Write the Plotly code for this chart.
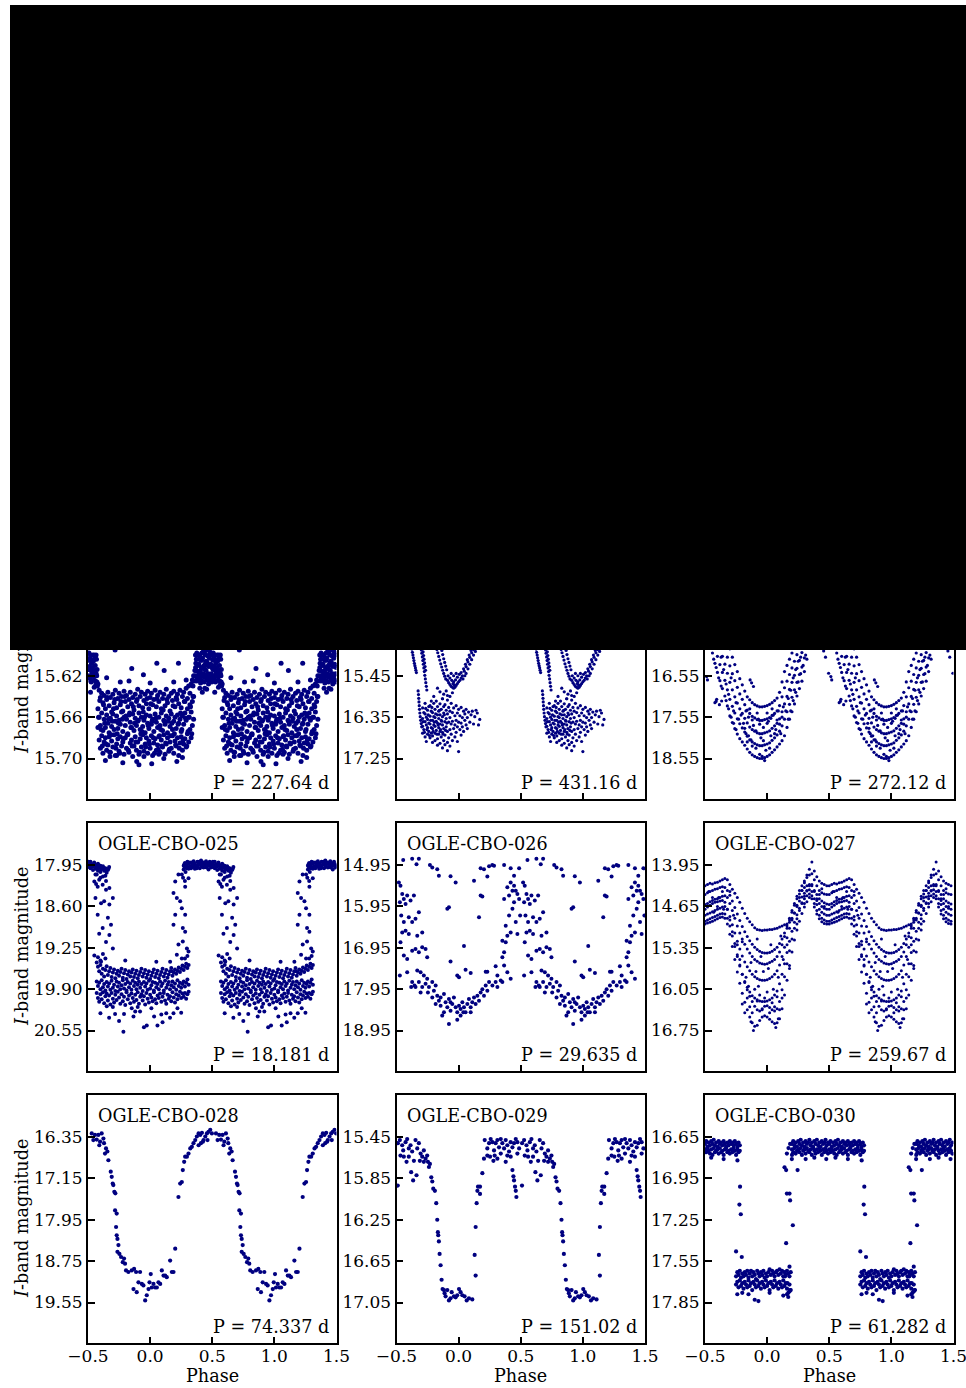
import plotly.graph_objects as go

W, H = 966, 1388
COL_LEFT = [88, 396.5, 705]
PANEL_W = 248.5
ROW_TOP = [551, 823, 1095]
PANEL_H = 248
NAVY = "#000080"
FONT = "DejaVu Serif"

# ---------------- panel meta ----------------
NAMES = ["OGLE-CBO-022", "OGLE-CBO-023", "OGLE-CBO-024",
         "OGLE-CBO-025", "OGLE-CBO-026", "OGLE-CBO-027",
         "OGLE-CBO-028", "OGLE-CBO-029", "OGLE-CBO-030"]
PERIODS = ["227.64", "431.16", "272.12", "18.181", "29.635", "259.67",
           "74.337", "151.02", "61.282"]
TICK0 = [15.54, 13.65, 14.55, 17.95, 14.95, 13.95, 16.35, 15.45, 16.65]
TICKSTEP = [0.04, 0.9, 1.0, 0.65, 1.0, 0.7, 0.8, 0.4, 0.3]
XTICKS = [-0.5, 0.0, 0.5, 1.0, 1.5]

# ---------------- OGLE-CBO-022 ----------------
G022 = [-0.42, -0.41, -0.40, -0.39, -0.38, -0.37, -0.36, -0.35, -0.34, -0.33,
        -0.32, -0.31, -0.30, -0.29, -0.28, -0.27, -0.26, -0.25, -0.24, -0.23,
        -0.22, -0.21, -0.20, -0.19, -0.18, -0.17, -0.16, -0.15, -0.14, -0.13,
        -0.12, -0.11, -0.10, -0.09, -0.08, -0.07, -0.06, -0.05, -0.04, -0.03,
        -0.02, -0.01, 0.00, 0.01, 0.02, 0.03, 0.04, 0.05, 0.06, 0.07,
        0.08, 0.09, 0.10, 0.11, 0.12, 0.13, 0.14, 0.15, 0.16, 0.17,
        0.18, 0.19, 0.20, 0.21, 0.22, 0.23, 0.24, 0.25, 0.26, 0.27,
        0.28, 0.29, 0.30, 0.31, 0.32, 0.33, 0.34, 0.35]
A022 = [15.628, 15.634, 15.641, 15.637, 15.646, 15.639, 15.652, 15.643, 15.636, 15.649,
        15.641, 15.655, 15.638, 15.646, 15.634, 15.651, 15.642, 15.637, 15.648, 15.640,
        15.654, 15.635, 15.645, 15.639, 15.650, 15.643, 15.636, 15.647, 15.641, 15.653,
        15.638, 15.645, 15.633, 15.649, 15.640, 15.636, 15.651, 15.644, 15.638, 15.647,
        15.635, 15.652, 15.641, 15.637, 15.648, 15.643, 15.634, 15.650, 15.639, 15.645,
        15.636, 15.652, 15.642, 15.638, 15.649, 15.633, 15.646, 15.640, 15.654, 15.637,
        15.644, 15.635, 15.650, 15.641, 15.638, 15.647, 15.634, 15.651, 15.640, 15.636,
        15.645, 15.632, 15.642, 15.630, 15.637, 15.628, 15.624, 15.620]
B022 = [15.652, 15.660, 15.668, 15.656, 15.673, 15.662, 15.670, 15.658, 15.666, 15.675,
        15.661, 15.669, 15.657, 15.672, 15.664, 15.659, 15.671, 15.663, 15.667, 15.655,
        15.674, 15.660, 15.668, 15.662, 15.676, 15.658, 15.665, 15.670, 15.657, 15.673,
        15.661, 15.668, 15.664, 15.656, 15.672, 15.660, 15.669, 15.663, 15.675, 15.658,
        15.666, 15.671, 15.659, 15.667, 15.662, 15.674, 15.657, 15.665, 15.670, 15.660,
        15.668, 15.656, 15.673, 15.663, 15.667, 15.659, 15.675, 15.661, 15.669, 15.657,
        15.672, 15.664, 15.660, 15.671, 15.658, 15.666, 15.662, 15.674, 15.659, 15.667,
        15.656, 15.663, 15.652, 15.660, 15.648, 15.655, 15.645, 15.640]
C022 = [15.670, 15.682, 15.690, 15.678, 15.695, 15.684, 15.680, 15.692, 15.687, 15.679,
        15.694, 15.683, 15.689, 15.677, 15.697, 15.686, 15.681, 15.693, 15.679, 15.688,
        15.684, 15.696, 15.680, 15.690, 15.677, 15.694, 15.685, 15.682, 15.698, 15.688,
        15.679, 15.692, 15.684, 15.696, 15.681, 15.689, 15.677, 15.693, 15.686, 15.680,
        15.695, 15.683, 15.690, 15.678, 15.697, 15.685, 15.681, 15.692, 15.687, 15.679,
        15.694, 15.682, 15.689, 15.677, 15.696, 15.686, 15.680, 15.693, 15.684, 15.690,
        15.678, 15.695, 15.683, 15.688, 15.680, 15.697, 15.685, 15.679, 15.692, 15.686,
        15.681, 15.689, 15.676, 15.684, 15.672, 15.680, 15.668, 15.662]
D022 = [(-0.415, 15.660), (-0.395, 15.672), (-0.375, 15.648), (-0.355, 15.686), (-0.335, 15.662),
        (-0.315, 15.677), (-0.295, 15.652), (-0.275, 15.690), (-0.255, 15.666), (-0.235, 15.645),
        (-0.215, 15.681), (-0.195, 15.659), (-0.175, 15.692), (-0.155, 15.670), (-0.135, 15.650),
        (-0.115, 15.684), (-0.095, 15.663), (-0.075, 15.676), (-0.055, 15.655), (-0.035, 15.689),
        (-0.015, 15.668), (0.005, 15.647), (0.025, 15.680), (0.045, 15.661), (0.065, 15.691),
        (0.085, 15.672), (0.105, 15.653), (0.125, 15.685), (0.145, 15.664), (0.165, 15.678),
        (0.185, 15.649), (0.205, 15.687), (0.225, 15.667), (0.245, 15.656), (0.265, 15.682),
        (0.285, 15.661), (0.305, 15.674), (0.325, 15.650), (0.345, 15.640),
        (-0.405, 15.644), (-0.385, 15.688), (-0.365, 15.666), (-0.345, 15.641), (-0.325, 15.694),
        (-0.305, 15.664), (-0.285, 15.643), (-0.265, 15.676), (-0.245, 15.695), (-0.225, 15.662),
        (-0.205, 15.640), (-0.185, 15.677), (-0.165, 15.656), (-0.145, 15.688), (-0.125, 15.666),
        (-0.105, 15.643), (-0.085, 15.694), (-0.065, 15.674), (-0.045, 15.660), (-0.025, 15.642),
        (-0.005, 15.686), (0.015, 15.664), (0.035, 15.695), (0.055, 15.642), (0.075, 15.678),
        (0.095, 15.688), (0.115, 15.664), (0.135, 15.643), (0.155, 15.691), (0.175, 15.666),
        (0.195, 15.676), (0.215, 15.643), (0.235, 15.690), (0.255, 15.672), (0.275, 15.645),
        (0.295, 15.688), (0.315, 15.660), (0.335, 15.676)]
BRIGHT022 = [(0.365, 15.600), (0.370, 15.615), (0.375, 15.625), (0.380, 15.590), (0.385, 15.610),
             (0.390, 15.620), (0.395, 15.575), (0.400, 15.600), (0.405, 15.615), (0.410, 15.585),
             (0.415, 15.605), (0.420, 15.620), (0.425, 15.570), (0.430, 15.595), (0.435, 15.610),
             (0.440, 15.580), (0.445, 15.600), (0.450, 15.615), (0.455, 15.575), (0.460, 15.595),
             (0.465, 15.610), (0.470, 15.585), (0.475, 15.600), (0.480, 15.620), (0.485, 15.580),
             (0.490, 15.600), (0.495, 15.610), (-0.500, 15.590), (-0.495, 15.605), (-0.490, 15.620),
             (-0.485, 15.580), (-0.480, 15.600), (-0.475, 15.615), (-0.470, 15.590), (-0.465, 15.605),
             (-0.460, 15.620), (-0.455, 15.580), (-0.450, 15.600), (-0.445, 15.615), (-0.440, 15.625),
             (-0.435, 15.600), (-0.430, 15.620), (-0.425, 15.630), (0.400, 15.520), (0.450, 15.500),
             (0.480, 15.530), (-0.480, 15.510), (-0.450, 15.550), (0.420, 15.550), (-0.470, 15.560),
             (0.440, 15.632), (0.470, 15.628), (-0.480, 15.636), (-0.450, 15.631), (0.400, 15.632),
             (0.420, 15.636), (0.455, 15.633), (0.345, 15.630), (0.355, 15.625), (0.360, 15.615),
             (0.368, 15.608), (0.378, 15.622), (0.388, 15.600), (0.398, 15.618), (0.408, 15.605),
             (0.418, 15.625), (0.428, 15.612), (0.438, 15.598), (0.448, 15.622), (0.458, 15.607),
             (0.468, 15.618), (0.478, 15.603), (0.488, 15.624), (0.498, 15.612), (-0.492, 15.598),
             (-0.482, 15.622), (-0.472, 15.608), (-0.462, 15.600), (-0.452, 15.624), (-0.442, 15.610),
             (-0.432, 15.604), (-0.428, 15.626),
             (0.362, 15.620), (0.372, 15.604), (0.382, 15.616), (0.392, 15.609), (0.402, 15.623),
             (0.412, 15.612), (0.422, 15.603), (0.432, 15.621), (0.442, 15.614), (0.452, 15.606),
             (0.462, 15.624), (0.472, 15.611), (0.482, 15.597), (0.492, 15.618), (-0.497, 15.622),
             (-0.487, 15.611), (-0.477, 15.625), (-0.467, 15.617), (-0.457, 15.606), (-0.447, 15.620),
             (-0.437, 15.629), (-0.427, 15.614),
             (0.366, 15.612), (0.376, 15.598), (0.386, 15.624), (0.396, 15.604), (0.406, 15.627),
             (0.416, 15.598), (0.426, 15.618), (0.436, 15.626), (0.446, 15.608), (0.456, 15.619),
             (0.466, 15.601), (0.476, 15.623), (0.486, 15.609), (0.496, 15.626), (-0.494, 15.614),
             (-0.484, 15.603), (-0.474, 15.626), (-0.464, 15.612), (-0.454, 15.616), (-0.444, 15.602),
             (-0.434, 15.618)]
OUT022 = [(-0.282, 15.595), (-0.148, 15.613), (-0.054, 15.619), (0.054, 15.608), (0.228, 15.608),
          (0.113, 15.615), (-0.240, 15.626), (-0.170, 15.625), (0.190, 15.626), (0.290, 15.624),
          (-0.350, 15.622), (0.000, 15.627), (-0.360, 15.702), (-0.323, 15.698), (-0.220, 15.704),
          (-0.108, 15.703), (-0.050, 15.698), (0.013, 15.705), (0.110, 15.700), (0.215, 15.703),
          (0.260, 15.699), (-0.270, 15.697), (0.070, 15.696), (-0.090, 15.706)]

# ---------------- OGLE-CBO-023 ----------------
LINES023 = [(-0.380, 14.80), (-0.376, 14.87), (-0.372, 14.94), (-0.368, 15.00), (-0.364, 15.06),
            (-0.360, 15.12), (-0.356, 15.18), (-0.352, 15.23), (-0.348, 15.28), (-0.344, 15.33),
            (-0.340, 15.38),
            (-0.304, 14.82), (-0.300, 14.89), (-0.296, 14.96), (-0.292, 15.04), (-0.288, 15.12),
            (-0.284, 15.20), (-0.280, 15.28), (-0.276, 15.36), (-0.272, 15.44), (-0.268, 15.52),
            (-0.264, 15.60), (-0.260, 15.68), (-0.256, 15.76),
            (-0.290, 14.85), (-0.286, 14.93), (-0.282, 15.01), (-0.278, 15.09), (-0.274, 15.17),
            (-0.270, 15.25), (-0.266, 15.33),
            (-0.326, 15.78), (-0.323, 15.86), (-0.321, 15.94), (-0.319, 16.02), (-0.317, 16.10),
            (-0.315, 16.18), (-0.312, 16.26), (-0.309, 16.34), (-0.305, 16.42), (-0.301, 16.49),
            (-0.297, 16.56)]
U023 = [(-0.175, 14.88), (-0.168, 14.95), (-0.160, 15.03), (-0.152, 15.11), (-0.144, 15.19),
        (-0.136, 15.26), (-0.128, 15.33), (-0.120, 15.40), (-0.112, 15.46), (-0.104, 15.52),
        (-0.135, 14.90), (-0.128, 14.99), (-0.120, 15.08), (-0.112, 15.16), (-0.104, 15.24),
        (-0.096, 15.32), (-0.090, 15.55), (-0.080, 15.60), (-0.070, 15.64), (-0.060, 15.68),
        (-0.050, 15.70), (-0.040, 15.72), (-0.030, 15.70), (-0.020, 15.66), (-0.010, 15.62),
        (0.000, 15.58), (0.010, 15.55), (0.020, 15.50), (-0.085, 15.45), (-0.070, 15.50),
        (-0.055, 15.55), (-0.040, 15.58), (-0.025, 15.54), (-0.010, 15.48), (0.005, 15.42),
        (0.020, 15.38), (-0.060, 15.40), (-0.040, 15.45), (-0.020, 15.40), (-0.045, 15.62),
        (-0.035, 15.65), (0.030, 15.45), (0.045, 15.35), (0.060, 15.25), (0.075, 15.15),
        (0.090, 15.05), (0.105, 14.95), (0.120, 14.88), (0.040, 15.30), (0.055, 15.20),
        (0.070, 15.10), (0.085, 15.00), (0.100, 14.90), (0.060, 15.40), (0.075, 15.30),
        (0.090, 15.20), (0.105, 15.10), (0.120, 15.00), (0.135, 14.92), (0.035, 15.52),
        (0.050, 15.45)]
BLOB023 = [(-0.29, 16.15), (-0.29, 16.38), (-0.29, 16.55), (-0.29, 16.70), (-0.28, 16.25),
           (-0.28, 16.62), (-0.27, 16.05), (-0.27, 16.28), (-0.27, 16.45), (-0.27, 16.78),
           (-0.26, 16.35), (-0.26, 16.52), (-0.26, 16.88), (-0.25, 16.20), (-0.25, 16.40),
           (-0.25, 16.58), (-0.25, 16.72), (-0.24, 16.12), (-0.24, 16.48), (-0.24, 16.66),
           (-0.23, 16.10), (-0.23, 16.33), (-0.23, 16.50), (-0.23, 16.80), (-0.22, 16.22),
           (-0.22, 16.58), (-0.22, 16.70), (-0.21, 16.25), (-0.21, 16.42), (-0.21, 16.60),
           (-0.21, 16.76), (-0.21, 16.90), (-0.20, 16.05), (-0.20, 16.34), (-0.20, 16.52),
           (-0.19, 16.18), (-0.19, 16.36), (-0.19, 16.55), (-0.19, 16.70), (-0.19, 16.86),
           (-0.18, 16.00), (-0.18, 16.44), (-0.18, 16.64), (-0.17, 16.12), (-0.17, 16.30),
           (-0.17, 16.48), (-0.17, 16.82), (-0.17, 16.96), (-0.16, 16.22), (-0.16, 16.38),
           (-0.16, 16.58), (-0.16, 16.72), (-0.15, 16.06), (-0.15, 16.30), (-0.15, 16.50),
           (-0.15, 16.66), (-0.15, 16.92), (-0.14, 16.18), (-0.14, 16.42), (-0.14, 16.78),
           (-0.13, 15.95), (-0.13, 16.34), (-0.13, 16.52), (-0.13, 16.68), (-0.13, 17.02),
           (-0.12, 16.12), (-0.12, 16.26), (-0.12, 16.60), (-0.12, 16.86), (-0.11, 16.08),
           (-0.11, 16.45), (-0.11, 16.74), (-0.11, 16.95), (-0.10, 16.20), (-0.10, 16.38),
           (-0.10, 16.56), (-0.09, 15.98), (-0.09, 16.28), (-0.09, 16.66), (-0.09, 16.90),
           (-0.09, 17.08), (-0.08, 16.14), (-0.08, 16.46), (-0.08, 16.80), (-0.07, 16.22),
           (-0.07, 16.36), (-0.07, 16.62), (-0.07, 16.98), (-0.06, 16.05), (-0.06, 16.50),
           (-0.06, 16.72), (-0.05, 16.25), (-0.05, 16.44), (-0.05, 16.86), (-0.04, 16.15),
           (-0.04, 16.60), (-0.03, 16.32), (-0.03, 16.52), (-0.03, 16.78), (-0.02, 16.10),
           (-0.02, 16.42), (-0.02, 16.68), (-0.01, 16.26), (-0.01, 16.56), (-0.01, 16.88),
           (0.00, 16.18), (0.00, 16.46), (0.00, 17.10), (0.01, 16.32), (0.01, 16.62),
           (0.02, 16.14), (0.02, 16.48), (0.02, 16.74), (0.03, 16.36), (0.03, 16.56),
           (0.04, 16.22), (0.04, 16.66), (0.05, 16.42), (0.05, 16.28), (0.06, 16.52),
           (0.06, 16.18), (0.07, 16.36), (0.07, 16.60), (0.08, 16.24), (0.09, 16.46),
           (0.10, 16.30), (0.11, 16.22), (0.12, 16.50), (0.13, 16.34), (0.15, 16.26),
           (0.17, 16.40), (0.16, 16.52), (0.14, 16.20),
           (-0.285, 16.45), (-0.275, 16.68), (-0.265, 16.16), (-0.255, 16.62), (-0.245, 16.30),
           (-0.235, 16.75), (-0.225, 16.42), (-0.215, 16.14), (-0.205, 16.66), (-0.195, 16.46),
           (-0.185, 16.28), (-0.175, 16.72), (-0.165, 16.52), (-0.155, 16.20), (-0.145, 16.62),
           (-0.135, 16.44), (-0.125, 16.72), (-0.115, 16.30), (-0.105, 16.64), (-0.095, 16.48),
           (-0.17, 15.72), (-0.15, 15.80), (-0.12, 15.85), (-0.10, 15.78), (-0.07, 15.90),
           (-0.05, 15.82), (-0.13, 15.95), (-0.09, 15.88), (-0.20, 15.90), (-0.22, 16.00)]

# ---------------- OGLE-CBO-024 ----------------
G024 = [-0.46, -0.44, -0.42, -0.40, -0.38, -0.36, -0.34, -0.32, -0.30, -0.28,
        -0.26, -0.24, -0.22, -0.20, -0.18, -0.16, -0.14, -0.12, -0.10, -0.08,
        -0.06, -0.04, -0.02, 0.00, 0.02, 0.04, 0.06, 0.08, 0.10, 0.12,
        0.14, 0.16, 0.18, 0.20, 0.22, 0.24, 0.26, 0.28, 0.30, 0.32,
        0.34]
U1_024 = [15.75, 16.00, 16.25, 16.47, 16.67, 16.86, 17.04, 17.28, 17.52, 17.68,
          17.83, 17.96, 18.07, 18.15, 18.23, 18.32, 18.40, 18.46, 18.50, 18.53,
          18.55, 18.55, 18.53, 18.50, 18.46, 18.40, 18.34, 18.27, 18.20, 18.12,
          18.00, 17.80, 17.60, 17.42, 17.23, 17.04, 16.86, 16.68, 16.45, 16.15,
          15.85]
U2_024 = [15.39, 15.63, 15.87, 16.08, 16.28, 16.47, 16.66, 16.89, 17.12, 17.29,
          17.45, 17.59, 17.71, 17.81, 17.91, 18.01, 18.10, 18.15, 18.19, 18.22,
          18.24, 18.24, 18.22, 18.20, 18.17, 18.11, 18.05, 17.98, 17.89, 17.76,
          17.60, 17.42, 17.24, 17.07, 16.89, 16.71, 16.52, 16.34, 16.12, 15.84,
          15.57]
U3_024 = [15.03, 15.25, 15.48, 15.69, 15.89, 16.08, 16.27, 16.49, 16.71, 16.89,
          17.06, 17.21, 17.35, 17.46, 17.58, 17.69, 17.79, 17.85, 17.89, 17.93,
          17.95, 17.95, 17.93, 17.91, 17.88, 17.82, 17.76, 17.70, 17.59, 17.42,
          17.23, 17.05, 16.88, 16.71, 16.54, 16.37, 16.18, 15.99, 15.78, 15.53,
          15.28]
U4_024 = [14.67, 14.88, 15.09, 15.30, 15.50, 15.69, 15.89, 16.10, 16.31, 16.50,
          16.67, 16.83, 16.99, 17.12, 17.25, 17.38, 17.46, 17.53, 17.57, 17.61,
          17.63, 17.63, 17.61, 17.59, 17.56, 17.51, 17.46, 17.40, 17.27, 17.06,
          16.84, 16.68, 16.52, 16.36, 16.20, 16.04, 15.84, 15.65, 15.44, 15.22,
          14.99]
U5_024 = [14.30, 14.50, 14.70, 14.90, 15.10, 15.30, 15.50, 15.70, 15.90, 16.10,
          16.28, 16.45, 16.62, 16.77, 16.92, 17.06, 17.13, 17.20, 17.25, 17.28,
          17.30, 17.30, 17.29, 17.27, 17.24, 17.20, 17.15, 17.09, 16.95, 16.70,
          16.45, 16.30, 16.15, 16.00, 15.85, 15.70, 15.50, 15.30, 15.10, 14.90,
          14.70]
SCAT024 = [(-0.19, 17.70), (-0.17, 17.95), (-0.15, 17.55), (-0.13, 18.10), (-0.11, 17.75),
           (-0.09, 18.30), (-0.07, 17.60), (-0.05, 18.05), (-0.03, 17.80), (-0.01, 18.35),
           (0.01, 17.65), (0.03, 18.00), (0.05, 17.50), (0.07, 17.85), (0.09, 17.40),
           (0.11, 17.95), (-0.14, 17.35), (-0.08, 17.45), (0.00, 17.45), (0.04, 17.35),
           (-0.12, 18.25), (-0.06, 18.45), (0.02, 18.30), (-0.16, 18.15), (-0.02, 18.60),
           (-0.04, 18.50), (-0.35, 16.40), (-0.33, 16.75), (-0.31, 17.00), (-0.27, 17.40),
           (-0.25, 17.20), (-0.23, 17.60), (0.15, 17.40), (0.17, 17.10), (0.19, 16.90),
           (0.21, 16.60), (0.23, 16.40), (0.25, 16.20), (0.27, 16.10), (-0.37, 16.10),
           (-0.29, 16.60), (-0.487, 16.57), (-0.480, 16.65), (-0.420, 17.20), (-0.406, 17.12),
           (-0.366, 17.16), (-0.384, 17.25), (-0.411, 17.17), (-0.137, 16.65), (-0.125, 16.72),
           (-0.110, 16.81), (0.495, 16.49), (0.470, 16.10), (0.455, 15.95),
           (-0.21, 17.50), (-0.18, 17.82), (-0.15, 18.00), (-0.12, 17.62), (-0.09, 17.88),
           (-0.06, 17.72), (-0.03, 18.12), (0.00, 17.70), (0.03, 17.58), (0.06, 17.95),
           (0.08, 17.62), (0.10, 17.72), (0.12, 17.55), (0.13, 17.30), (-0.17, 17.40),
           (-0.43, 16.15), (-0.41, 16.35), (-0.39, 16.60), (-0.37, 16.80), (-0.33, 17.15),
           (-0.31, 17.35), (-0.29, 17.55), (-0.27, 17.70), (-0.25, 17.85), (0.27, 16.50),
           (0.25, 16.70), (0.23, 16.95), (0.21, 17.15), (0.19, 17.40), (0.17, 17.60),
           (0.29, 16.30), (0.31, 16.05)]

# ---------------- OGLE-CBO-025 ----------------
PLAT025 = [(0.27, 17.96), (0.27, 18.02), (0.28, 17.92), (0.28, 17.99), (0.29, 17.95),
           (0.30, 17.90), (0.30, 17.98), (0.31, 17.93), (0.31, 18.01), (0.32, 17.97),
           (0.33, 17.91), (0.33, 18.00), (0.34, 17.94), (0.35, 17.89), (0.35, 17.97),
           (0.36, 17.93), (0.36, 18.01), (0.37, 17.96), (0.38, 17.90), (0.38, 17.98),
           (0.39, 17.94), (0.40, 17.92), (0.40, 18.00), (0.41, 17.88), (0.41, 17.96),
           (0.42, 17.93), (0.43, 17.91), (0.43, 17.99), (0.44, 17.95), (0.45, 17.89),
           (0.45, 17.98), (0.46, 17.93), (0.47, 17.96), (0.47, 18.02), (0.48, 17.90),
           (0.49, 17.94), (0.49, 17.99), (-0.50, 17.92), (-0.50, 17.98), (-0.49, 17.95),
           (-0.48, 17.90), (-0.48, 18.00), (-0.47, 17.94), (-0.46, 17.97), (-0.46, 18.03),
           (-0.45, 17.91), (-0.44, 17.95), (-0.44, 18.01), (-0.43, 17.98), (-0.42, 17.93),
           (-0.42, 18.04), (-0.41, 17.99), (-0.40, 17.96), (-0.40, 18.06), (-0.39, 18.01),
           (-0.38, 17.97), (-0.37, 18.04), (-0.36, 18.00), (-0.35, 18.07), (-0.34, 18.03),
           (-0.33, 17.98), (0.275, 17.94), (0.295, 18.00), (0.315, 17.91), (0.335, 17.97),
           (0.355, 17.93), (0.375, 18.00), (0.395, 17.90), (0.415, 17.97), (0.435, 17.92),
           (0.455, 17.99), (0.475, 17.93), (0.495, 17.97), (-0.495, 17.90), (-0.475, 17.98),
           (-0.455, 17.94), (-0.435, 18.00), (-0.415, 17.95), (-0.395, 18.02), (-0.375, 17.99),
           (-0.355, 18.04), (-0.335, 18.01), (-0.44, 18.10), (-0.41, 18.18), (-0.38, 18.13),
           (-0.435, 18.25), (-0.355, 18.20), (0.255, 18.10), (0.265, 18.15), (0.28, 18.20),
           (0.285, 18.06)]
EDGE025 = [(-0.449, 18.21), (-0.422, 18.29), (-0.382, 18.26), (-0.355, 18.34), (-0.328, 18.31),
           (-0.440, 18.47), (-0.395, 18.55), (-0.370, 18.52), (-0.328, 18.57), (-0.300, 18.47),
           (-0.422, 18.73), (-0.382, 18.94), (-0.340, 18.78), (-0.315, 18.89), (-0.410, 19.03),
           (-0.355, 19.16), (-0.328, 19.05), (-0.300, 19.26), (-0.449, 19.37), (-0.395, 19.47),
           (-0.360, 19.42), (-0.430, 18.10), (-0.400, 18.15), (-0.360, 18.12),
           (0.188, 18.39), (0.215, 18.47), (0.255, 18.63), (0.202, 18.73), (0.263, 18.94),
           (0.282, 19.00), (0.228, 19.20), (0.296, 19.26), (0.309, 19.31), (0.263, 19.15),
           (0.282, 18.73), (0.242, 18.52), (0.188, 18.89), (0.215, 19.36), (0.161, 19.47),
           (0.202, 18.21), (0.282, 18.29), (0.228, 18.10), (0.309, 18.16), (0.255, 19.42),
           (0.175, 19.62)]
G025 = [-0.43, -0.42, -0.41, -0.40, -0.39, -0.38, -0.37, -0.36, -0.35, -0.34,
        -0.33, -0.32, -0.31, -0.30, -0.29, -0.28, -0.27, -0.26, -0.25, -0.24,
        -0.23, -0.22, -0.21, -0.20, -0.19, -0.18, -0.17, -0.16, -0.15, -0.14,
        -0.13, -0.12, -0.11, -0.10, -0.09, -0.08, -0.07, -0.06, -0.05, -0.04,
        -0.03, -0.02, -0.01, 0.00, 0.01, 0.02, 0.03, 0.04, 0.05, 0.06,
        0.07, 0.08, 0.09, 0.10, 0.11, 0.12, 0.13, 0.14, 0.15, 0.16,
        0.17, 0.18, 0.19, 0.20, 0.21, 0.22, 0.23, 0.24, 0.25, 0.26,
        0.27, 0.28, 0.29, 0.30, 0.31]
A025 = [19.48, 19.55, 19.62, 19.52, 19.66, 19.58, 19.70, 19.60, 19.54, 19.68,
        19.62, 19.57, 19.71, 19.64, 19.59, 19.73, 19.66, 19.61, 19.69, 19.63,
        19.58, 19.72, 19.65, 19.60, 19.74, 19.67, 19.62, 19.70, 19.64, 19.59,
        19.71, 19.66, 19.61, 19.73, 19.68, 19.63, 19.58, 19.70, 19.65, 19.60,
        19.72, 19.67, 19.62, 19.74, 19.69, 19.64, 19.59, 19.71, 19.66, 19.61,
        19.73, 19.68, 19.63, 19.58, 19.70, 19.65, 19.60, 19.72, 19.67, 19.62,
        19.57, 19.69, 19.64, 19.59, 19.66, 19.61, 19.56, 19.63, 19.58, 19.53,
        19.60, 19.55, 19.50, 19.57, 19.52]
B025 = [19.78, 19.85, 19.80, 19.90, 19.76, 19.87, 19.82, 19.92, 19.79, 19.86,
        19.81, 19.91, 19.77, 19.88, 19.83, 19.93, 19.78, 19.86, 19.80, 19.90,
        19.84, 19.76, 19.89, 19.82, 19.92, 19.79, 19.87, 19.81, 19.91, 19.77,
        19.85, 19.80, 19.90, 19.83, 19.78, 19.88, 19.82, 19.93, 19.79, 19.86,
        19.81, 19.91, 19.77, 19.89, 19.84, 19.79, 19.92, 19.80, 19.87, 19.82,
        19.90, 19.78, 19.85, 19.81, 19.92, 19.77, 19.88, 19.83, 19.79, 19.90,
        19.84, 19.78, 19.87, 19.81, 19.91, 19.76, 19.85, 19.80, 19.88, 19.82,
        19.78, 19.86, 19.80, 19.75, 19.83]
C025 = [19.96, 20.04, 20.10, 19.98, 20.06, 19.95, 20.12, 20.01, 19.97, 20.08,
        20.00, 20.14, 19.96, 20.05, 20.11, 19.99, 20.07, 19.94, 20.03, 20.13,
        19.98, 20.09, 20.02, 20.15, 19.95, 20.06, 20.00, 20.12, 19.97, 20.04,
        20.10, 19.99, 20.07, 19.95, 20.13, 20.02, 19.98, 20.08, 20.01, 20.14,
        19.96, 20.05, 20.11, 19.99, 20.03, 20.09, 19.95, 20.06, 20.12, 20.00,
        20.04, 19.97, 20.10, 20.02, 19.96, 20.08, 20.13, 19.99, 20.05, 20.01,
        20.09, 19.95, 20.03, 20.11, 19.98, 20.06, 20.00, 19.94, 20.04, 19.97,
        20.02, 19.96, 20.05, 19.98, 19.94]
OUT025 = [(-0.215, 20.57), (-0.027, 20.47), (0.059, 20.47), (-0.282, 20.29), (-0.349, 20.17),
          (-0.134, 20.33), (0.032, 20.33), (0.188, 20.28), (-0.148, 20.20), (-0.081, 20.25),
          (-0.40, 20.28), (-0.33, 20.35), (-0.25, 20.40), (-0.12, 20.25), (-0.05, 20.50),
          (0.01, 20.20), (0.10, 20.42), (0.13, 20.28), (0.16, 20.35), (0.22, 20.20),
          (-0.30, 20.18), (-0.21, 20.29), (0.25, 20.27), (-0.10, 20.18), (0.09, 20.30),
          (-0.42, 19.40), (-0.40, 19.45), (-0.38, 19.35), (0.28, 19.42), (0.30, 19.38),
          (-0.20, 19.45), (0.05, 19.47)]

# ---------------- OGLE-CBO-026 ----------------
PTS026 = [(-0.446, 14.83), (-0.374, 14.80), (-0.339, 14.93), (-0.320, 14.80), (-0.231, 14.95),
          (-0.212, 15.01), (-0.172, 15.05), (-0.159, 15.21), (-0.065, 15.22), (-0.024, 15.37),
          (0.124, 15.33), (0.177, 15.03), (0.204, 15.05), (0.231, 15.23), (0.245, 14.98),
          (0.271, 14.95), (0.285, 14.97), (0.366, 14.95), (0.419, 15.03), (0.446, 15.21),
          (0.487, 15.03),
          (-0.481, 15.37), (-0.468, 15.45), (-0.454, 15.65), (-0.441, 15.77), (-0.473, 15.85),
          (-0.427, 15.89), (-0.414, 15.69), (-0.387, 15.81), (-0.360, 15.69), (-0.462, 16.17),
          (-0.441, 16.33), (-0.401, 16.21), (-0.374, 16.33), (-0.347, 16.25), (-0.454, 16.58),
          (-0.427, 16.54), (-0.401, 16.62), (-0.468, 16.82), (-0.441, 17.14), (-0.414, 17.22),
          (-0.374, 17.02), (-0.347, 16.98), (-0.320, 17.06), (-0.293, 16.94), (-0.266, 16.98),
          (-0.253, 17.18), (-0.414, 17.54), (-0.333, 17.50), (-0.306, 17.54), (-0.374, 17.78),
          (-0.347, 17.90), (-0.280, 17.62), (-0.253, 17.70), (-0.320, 16.09), (-0.293, 16.58),
          (-0.333, 16.66), (-0.473, 17.62),
          (-0.382, 17.90), (-0.355, 17.86), (-0.320, 17.78), (-0.293, 17.90), (-0.266, 17.82),
          (-0.239, 17.90), (-0.212, 17.78), (-0.185, 17.86), (-0.306, 18.03), (-0.247, 18.03),
          (-0.199, 17.99), (-0.172, 18.11), (-0.159, 18.23), (-0.145, 18.15), (-0.118, 18.07),
          (-0.105, 18.27), (-0.091, 18.39), (-0.078, 18.19), (-0.065, 18.47), (-0.051, 18.31),
          (-0.038, 18.15), (-0.024, 18.39), (-0.011, 18.51), (0.003, 18.35), (0.016, 18.43),
          (0.030, 18.27), (0.043, 18.39), (0.056, 18.51), (0.070, 18.31), (0.083, 18.19),
          (0.097, 18.39), (0.110, 18.27), (0.124, 18.15), (0.137, 18.31), (0.151, 18.11),
          (0.164, 18.23), (0.177, 18.03), (0.191, 17.95), (0.204, 18.11), (0.218, 17.86),
          (0.231, 17.99), (0.245, 17.78), (0.272, 17.86), (0.298, 17.78), (0.312, 17.90),
          (0.339, 17.74), (-0.078, 18.79), (-0.011, 18.69), (-0.132, 18.59), (-0.118, 18.51),
          (0.016, 18.59), (0.097, 18.51), (-0.145, 18.35), (-0.185, 18.31), (-0.212, 18.15),
          (-0.065, 18.27), (0.038, 18.51),
          (-0.091, 16.01), (-0.078, 15.97), (0.164, 16.21), (0.177, 15.69), (0.191, 15.71),
          (0.043, 16.91), (-0.065, 17.28), (-0.011, 17.62), (0.003, 17.66), (0.056, 17.48),
          (0.097, 17.56), (0.218, 17.53), (0.231, 17.53), (0.298, 17.40), (0.312, 17.62),
          (0.352, 17.18), (0.366, 17.06), (0.379, 16.82), (0.366, 17.38), (0.392, 17.54),
          (0.352, 17.78), (0.419, 17.70),
          (0.392, 15.49), (0.419, 15.37), (0.446, 15.45), (0.460, 15.57), (0.473, 15.65),
          (0.487, 15.77), (0.433, 16.01), (0.406, 16.17), (0.379, 16.42), (0.392, 16.66),
          (0.419, 16.58), (0.473, 16.62), (0.446, 15.85), (0.366, 15.77), (0.352, 16.78),
          (0.495, 16.17), (0.460, 16.33), (0.406, 15.69), (0.433, 15.57)]

# ---------------- OGLE-CBO-027 ----------------
G027 = [-0.50, -0.48, -0.46, -0.44, -0.42, -0.40, -0.38, -0.36, -0.34, -0.32,
        -0.30, -0.28, -0.26, -0.24, -0.22, -0.20, -0.18, -0.16, -0.14, -0.12,
        -0.10, -0.08, -0.06, -0.04, -0.02, 0.00, 0.02, 0.04, 0.06, 0.08,
        0.10, 0.12, 0.14, 0.16, 0.18, 0.20, 0.22, 0.24, 0.26, 0.28,
        0.30, 0.32, 0.34, 0.36, 0.38, 0.40, 0.42, 0.44, 0.46, 0.48]
T1_027 = [14.30, 14.28, 14.26, 14.27, 14.25, 14.24, 14.22, 14.20, 14.18, 14.20,
          14.28, 14.36, 14.43, 14.50, 14.58, 14.68, 14.77, 14.85, 14.91, 14.96,
          15.01, 15.04, 15.05, 15.06, 15.05, 15.05, 15.04, 15.04, 15.03, 15.02,
          15.00, 14.98, 14.96, 14.95, 14.92, 14.85, 14.76, 14.63, 14.50, 14.38,
          14.25, 14.12, 14.02, 13.90, 14.05, 14.15, 14.22, 14.26, 14.28, 14.30]
T2_027 = [14.45, 14.42, 14.40, 14.38, 14.36, 14.35, 14.33, 14.32, 14.33, 14.38,
          14.46, 14.56, 14.67, 14.78, 14.89, 14.99, 15.08, 15.16, 15.23, 15.29,
          15.34, 15.38, 15.41, 15.43, 15.44, 15.44, 15.43, 15.41, 15.38, 15.34,
          15.28, 15.20, 15.10, 14.98, 14.85, 14.72, 14.60, 14.48, 14.38, 14.30,
          14.22, 14.16, 14.12, 14.10, 14.20, 14.30, 14.38, 14.42, 14.44, 14.45]
T3_027 = [14.62, 14.60, 14.57, 14.55, 14.53, 14.52, 14.50, 14.48, 14.47, 14.50,
          14.60, 14.72, 14.85, 14.98, 15.10, 15.20, 15.29, 15.37, 15.44, 15.50,
          15.55, 15.58, 15.61, 15.62, 15.63, 15.62, 15.60, 15.58, 15.55, 15.50,
          15.42, 15.30, 15.16, 15.02, 14.88, 14.75, 14.63, 14.52, 14.44, 14.38,
          14.33, 14.30, 14.28, 14.30, 14.38, 14.45, 14.52, 14.56, 14.59, 14.61]
T4_027 = [14.80, 14.78, 14.76, 14.74, 14.72, 14.70, 14.68, 14.66, 14.65, 14.70,
          14.82, 14.96, 15.10, 15.24, 15.37, 15.49, 15.59, 15.67, 15.74, 15.80,
          15.84, 15.87, 15.89, 15.90, 15.90, 15.89, 15.87, 15.84, 15.80, 15.74,
          15.64, 15.50, 15.34, 15.18, 15.02, 14.88, 14.76, 14.65, 14.56, 14.49,
          14.43, 14.39, 14.37, 14.40, 14.52, 14.62, 14.70, 14.75, 14.78, 14.80]
T5_027 = [14.90, 14.88, 14.86, 14.84, 14.82, 14.80, 14.78, 14.77, 14.78, 14.85,
          14.98, 15.15, 15.33, 15.50, 15.66, 15.80, 15.92, 16.02, 16.10, 16.16,
          16.20, 16.23, 16.25, 16.26, 16.26, 16.25, 16.23, 16.20, 16.15, 16.08,
          15.96, 15.80, 15.62, 15.43, 15.24, 15.07, 14.92, 14.79, 14.68, 14.59,
          14.52, 14.47, 14.44, 14.47, 14.60, 14.72, 14.80, 14.85, 14.88, 14.90]
T6_027 = [14.95, 14.93, 14.92, 14.90, 14.88, 14.86, 14.84, 14.83, 14.85, 14.95,
          15.12, 15.33, 15.55, 15.76, 15.95, 16.12, 16.27, 16.40, 16.52, 16.62,
          16.68, 16.66, 16.58, 16.52, 16.50, 16.52, 16.56, 16.60, 16.63, 16.62,
          16.55, 16.38, 16.15, 15.90, 15.65, 15.42, 15.22, 15.05, 14.90, 14.77,
          14.66, 14.57, 14.50, 14.52, 14.66, 14.78, 14.86, 14.91, 14.94, 14.95]
T7_027 = [14.70, 14.66, 14.63, 14.60, 14.58, 14.57, 14.56, 14.55, 14.58, 14.70,
          14.88, 15.08, 15.28, 15.47, 15.64, 15.80, 15.94, 16.06, 16.17, 16.26,
          16.34, 16.40, 16.42, 16.38, 16.34, 16.33, 16.36, 16.40, 16.42, 16.38,
          16.26, 16.06, 15.84, 15.62, 15.40, 15.20, 15.02, 14.86, 14.72, 14.60,
          14.48, 14.38, 14.30, 14.28, 14.40, 14.52, 14.60, 14.65, 14.68, 14.70]
SCAT027 = [(-0.20, 16.30), (-0.18, 16.45), (-0.16, 16.20), (-0.14, 16.35), (-0.12, 16.45),
           (-0.10, 16.05), (-0.08, 16.25), (-0.06, 16.15), (-0.04, 16.40), (-0.02, 16.20),
           (0.00, 16.10), (0.02, 16.45), (0.04, 16.28), (0.06, 16.35), (0.08, 16.18),
           (0.10, 16.40), (0.12, 16.20), (-0.13, 16.60), (-0.11, 16.75), (0.07, 16.70),
           (0.09, 16.55), (-0.24, 15.30), (-0.22, 15.55), (-0.20, 15.25), (0.16, 15.30),
           (0.18, 15.70), (-0.05, 15.50), (0.03, 15.30), (-0.08, 15.20), (0.11, 15.15),
           (-0.44, 14.50), (-0.40, 14.65), (0.42, 14.45), (0.30, 14.60), (-0.36, 14.40),
           (-0.17, 15.85), (-0.15, 16.00), (-0.13, 15.60), (-0.09, 15.75), (-0.07, 16.00),
           (-0.03, 15.75), (0.01, 15.70), (0.05, 16.05), (0.09, 15.85), (0.13, 15.55),
           (-0.47, 14.40), (-0.43, 14.75), (-0.39, 14.50), (-0.35, 14.70), (0.40, 14.55),
           (0.44, 14.35), (0.46, 14.65), (-0.27, 14.80), (0.24, 14.95), (-0.30, 14.40)]

# ---------------- OGLE-CBO-028 ----------------
PTS028 = [(-0.470, 16.28), (-0.444, 16.31), (-0.417, 16.31), (-0.390, 16.28), (-0.457, 16.41),
          (-0.430, 16.40), (-0.403, 16.44), (-0.376, 16.38), (-0.409, 16.51), (-0.371, 16.47),
          (-0.355, 16.57), (-0.344, 16.63), (-0.363, 16.67), (-0.336, 16.80), (-0.317, 17.02),
          (-0.309, 17.12), (-0.301, 17.25), (-0.296, 17.28), (-0.288, 17.41), (-0.280, 17.44),
          (-0.282, 17.77), (-0.269, 17.83), (-0.274, 18.09), (-0.269, 18.25), (-0.263, 18.32),
          (-0.255, 18.44), (-0.263, 18.57), (-0.247, 18.61), (-0.234, 18.67), (-0.220, 18.77),
          (-0.210, 18.70), (-0.194, 18.93), (-0.202, 18.80), (-0.175, 18.96), (-0.148, 18.93),
          (-0.129, 18.90), (-0.113, 18.96), (-0.134, 19.29), (-0.108, 19.35), (-0.094, 19.16),
          (-0.081, 18.96), (-0.067, 19.19), (-0.054, 19.22), (-0.040, 19.51), (-0.027, 19.41),
          (-0.013, 19.29), (-0.005, 19.16), (0.005, 19.00), (0.013, 19.26), (0.027, 19.19),
          (0.040, 19.26), (0.054, 19.26), (0.067, 19.16), (0.081, 19.19), (0.094, 18.93),
          (0.108, 19.03), (0.121, 19.03), (0.134, 19.06), (0.161, 18.74), (0.175, 18.96),
          (0.188, 18.96), (0.202, 18.51), (0.228, 17.51), (0.242, 17.25), (0.255, 17.22),
          (0.263, 16.99), (0.274, 16.83), (0.282, 16.73), (0.296, 16.73), (0.309, 16.67),
          (0.323, 16.57), (0.336, 16.54), (0.349, 16.47), (0.363, 16.41), (0.376, 16.34),
          (0.390, 16.28), (0.403, 16.31), (0.417, 16.27), (0.430, 16.41), (0.444, 16.34),
          (0.457, 16.28), (0.470, 16.25), (0.484, 16.21), (0.497, 16.28), (0.409, 16.47),
          (0.390, 16.51), (0.425, 16.44), (0.462, 16.41)]

# ---------------- OGLE-CBO-029 ----------------
PTS029 = [(-0.489, 15.51), (-0.473, 15.48), (-0.454, 15.53), (-0.441, 15.64), (-0.427, 15.50),
          (-0.414, 15.47), (-0.401, 15.56), (-0.387, 15.53), (-0.374, 15.59), (-0.360, 15.68),
          (-0.347, 15.48), (-0.333, 15.56), (-0.320, 15.51), (-0.306, 15.61), (-0.293, 15.64),
          (-0.280, 15.58), (-0.266, 15.66), (-0.253, 15.63), (-0.247, 15.69), (-0.239, 15.74),
          (-0.231, 15.71), (-0.468, 15.63), (-0.419, 15.69), (-0.382, 15.79), (-0.366, 15.87),
          (-0.339, 15.82), (-0.312, 15.68), (-0.280, 15.69), (-0.401, 15.64), (-0.446, 15.58),
          (-0.490, 15.92),
          (-0.220, 15.84), (-0.212, 15.88), (-0.204, 15.95), (-0.191, 15.97), (-0.180, 16.09),
          (-0.172, 16.25), (-0.167, 16.37), (-0.164, 16.40), (-0.159, 16.46), (-0.153, 16.58),
          (-0.145, 16.69), (-0.137, 16.83), (-0.129, 16.92), (-0.118, 16.93), (-0.113, 16.96),
          (-0.105, 16.99), (-0.078, 17.03), (-0.056, 16.95), (-0.038, 16.99), (-0.024, 17.00),
          (-0.011, 16.98), (0.003, 16.92), (0.016, 16.95), (0.030, 16.98), (0.048, 16.99),
          (0.065, 17.03), (0.083, 17.01), (0.110, 17.02), (-0.091, 16.93), (-0.065, 17.01),
          (0.129, 16.59), (0.137, 16.79), (0.137, 16.32), (0.145, 16.09), (0.151, 15.97),
          (0.156, 15.93), (0.172, 15.93), (0.191, 15.80), (0.204, 15.66), (0.172, 16.00),
          (0.231, 15.63),
          (0.210, 15.48), (0.231, 15.56), (0.245, 15.51), (0.258, 15.47), (0.272, 15.50),
          (0.285, 15.58), (0.298, 15.51), (0.312, 15.48), (0.325, 15.55), (0.339, 15.47),
          (0.352, 15.51), (0.366, 15.56), (0.379, 15.48), (0.392, 15.53), (0.406, 15.59),
          (0.419, 15.50), (0.433, 15.55), (0.446, 15.51), (0.460, 15.47), (0.473, 15.50),
          (0.487, 15.56), (0.253, 15.64), (0.312, 15.66), (0.392, 15.63), (0.339, 15.61),
          (0.280, 15.68), (0.419, 15.64), (0.473, 15.61), (0.379, 15.69), (0.290, 15.63),
          (0.433, 15.77), (0.441, 15.83), (0.446, 15.87), (0.454, 15.93), (0.460, 15.97),
          (0.465, 16.03)]

# ---------------- OGLE-CBO-030 ----------------
G030H = [0.20, 0.21, 0.22, 0.23, 0.24, 0.25, 0.26, 0.27, 0.28, 0.29,
         0.30, 0.31, 0.32, 0.33, 0.34, 0.35, 0.36, 0.37, 0.38, 0.39,
         0.40, 0.41, 0.42, 0.43, 0.44, 0.45, 0.46, 0.47, 0.48, 0.49,
         -0.50, -0.49, -0.48, -0.47, -0.46, -0.45, -0.44, -0.43, -0.42, -0.41,
         -0.40, -0.39, -0.38, -0.37, -0.36, -0.35, -0.34, -0.33, -0.32, -0.31,
         -0.30, -0.29, -0.28, -0.27, -0.26, -0.25, -0.24, -0.23, -0.22]
HA030 = [16.70, 16.68, 16.71, 16.69, 16.72, 16.68, 16.70, 16.67, 16.71, 16.69,
         16.72, 16.68, 16.70, 16.69, 16.67, 16.71, 16.69, 16.72, 16.68, 16.70,
         16.67, 16.71, 16.69, 16.72, 16.68, 16.70, 16.69, 16.67, 16.71, 16.69,
         16.70, 16.68, 16.72, 16.69, 16.71, 16.68, 16.70, 16.67, 16.71, 16.69,
         16.72, 16.68, 16.70, 16.69, 16.71, 16.68, 16.70, 16.72, 16.69, 16.71,
         16.68, 16.70, 16.69, 16.71, 16.68, 16.70, 16.72, 16.69, 16.71]
HB030 = [16.74, 16.76, 16.73, 16.77, 16.75, 16.74, 16.76, 16.73, 16.78, 16.75,
         16.74, 16.77, 16.73, 16.75, 16.76, 16.74, 16.78, 16.73, 16.75, 16.77,
         16.74, 16.76, 16.73, 16.75, 16.78, 16.74, 16.76, 16.73, 16.75, 16.77,
         16.74, 16.76, 16.73, 16.75, 16.77, 16.74, 16.78, 16.73, 16.76, 16.75,
         16.74, 16.77, 16.73, 16.76, 16.75, 16.78, 16.74, 16.73, 16.76, 16.75,
         16.77, 16.74, 16.76, 16.73, 16.75, 16.78, 16.74, 16.76, 16.75]
G030L = [-0.25, -0.24, -0.23, -0.22, -0.21, -0.20, -0.19, -0.18, -0.17, -0.16,
         -0.15, -0.14, -0.13, -0.12, -0.11, -0.10, -0.09, -0.08, -0.07, -0.06,
         -0.05, -0.04, -0.03, -0.02, -0.01, 0.00, 0.01, 0.02, 0.03, 0.04,
         0.05, 0.06, 0.07, 0.08, 0.09, 0.10, 0.11, 0.12, 0.13, 0.14,
         0.15, 0.16, 0.17, 0.18, 0.19]
LA030 = [17.66, 17.63, 17.65, 17.62, 17.67, 17.64, 17.66, 17.63, 17.65, 17.62,
         17.67, 17.64, 17.62, 17.66, 17.63, 17.65, 17.68, 17.62, 17.64, 17.66,
         17.63, 17.65, 17.62, 17.67, 17.64, 17.66, 17.63, 17.61, 17.65, 17.62,
         17.64, 17.66, 17.63, 17.62, 17.65, 17.61, 17.64, 17.62, 17.66, 17.63,
         17.65, 17.62, 17.64, 17.66, 17.63]
LB030 = [17.72, 17.70, 17.74, 17.69, 17.73, 17.71, 17.75, 17.70, 17.72, 17.74,
         17.69, 17.73, 17.71, 17.76, 17.70, 17.72, 17.74, 17.69, 17.73, 17.71,
         17.75, 17.70, 17.72, 17.74, 17.69, 17.73, 17.71, 17.76, 17.70, 17.72,
         17.74, 17.69, 17.73, 17.71, 17.75, 17.70, 17.72, 17.74, 17.69, 17.73,
         17.71, 17.75, 17.78, 17.72, 17.76]
EXTRA030 = [(0.245, 16.89), (0.31, 16.81), (0.476, 16.81), (-0.35, 16.81), (-0.45, 16.80),
            (0.38, 16.80), (0.20, 16.78), (-0.24, 17.79), (-0.10, 17.83), (-0.07, 17.84),
            (-0.20, 17.78), (0.13, 17.80), (0.16, 17.79), (0.17, 17.81), (0.02, 17.78),
            (-0.15, 17.79), (0.18, 17.77), (-0.239, 16.82), (-0.218, 17.01), (-0.223, 17.14),
            (-0.212, 17.21), (-0.250, 17.48), (-0.204, 17.52), (-0.231, 16.75), (0.140, 16.87),
            (0.153, 16.89), (0.159, 17.06), (0.180, 17.06), (0.185, 17.11), (0.207, 17.29),
            (0.153, 17.42), (0.180, 17.59), (0.185, 17.76), (0.159, 16.77), (0.172, 16.73),
            (0.185, 16.70), (0.199, 16.81), (0.164, 17.71), (0.145, 17.66)]


def on_grid(grid, *tracks):
    return [(g, m) for tr in tracks for g, m in zip(grid, tr)]


PANEL_POINTS = [
    on_grid(G022, A022, B022, C022) + D022 + BRIGHT022 + OUT022,
    LINES023 + U023 + BLOB023,
    on_grid(G024, U1_024, U2_024, U3_024, U4_024, U5_024) + SCAT024,
    PLAT025 + EDGE025 + on_grid(G025, A025, B025, C025) + OUT025,
    PTS026,
    on_grid(G027, T1_027, T2_027, T3_027, T4_027, T5_027, T6_027, T7_027) + SCAT027,
    PTS028,
    PTS029,
    on_grid(G030H, HA030, HB030) + on_grid(G030L, LA030, LB030) + EXTRA030,
]
MARKER_SIZE = [5.0, 3.2, 3.2, 4.0, 4.0, 3.0, 4.2, 4.2, 4.2]
LABEL_SIZE = 17.6
TICK_SIZE = 17

fig = go.Figure()
layout = dict(width=W, height=H, margin=dict(l=0, r=0, t=0, b=0, pad=0, autoexpand=False),
              paper_bgcolor="white", plot_bgcolor="white", showlegend=False,
              font=dict(family=FONT, size=TICK_SIZE, color="black"))
annotations = []

for i in range(9):
    r, c = divmod(i, 3)
    left = COL_LEFT[c]
    top = ROW_TOP[r]
    xs, ys = [], []
    for p, m in PANEL_POINTS[i]:
        xs += [p, p + 1.0]
        ys += [m, m]
    sfx = "" if i == 0 else str(i + 1)
    fig.add_trace(go.Scatter(x=xs, y=ys, mode="markers", xaxis="x" + sfx, yaxis="y" + sfx,
                             marker=dict(color=NAVY, size=MARKER_SIZE[i], line=dict(width=0)),
                             hoverinfo="skip"))
    t0, d = TICK0[i], TICKSTEP[i]
    yt = [round(t0 + k * d, 4) for k in range(5)]
    yr = [t0 + 4 * d + d * 40.5 / 41.375, t0 - d * 42 / 41.375]
    axis_common = dict(showline=True, linecolor="black", linewidth=2, mirror=True,
                       ticks="inside", ticklen=6.5, tickwidth=1.5, tickcolor="black",
                       showgrid=False, zeroline=False, automargin=False,
                       ticklabeloverflow="allow",
                       tickfont=dict(family=FONT, size=TICK_SIZE, color="black"))
    layout["xaxis" + sfx] = dict(axis_common, domain=[left / W, (left + PANEL_W) / W],
                                 anchor="y" + sfx, range=[-0.5, 1.5], tickvals=XTICKS,
                                 tickformat=".1f", showticklabels=(r == 2),
                                 ticklabelstandoff=-3)
    layout["yaxis" + sfx] = dict(axis_common, domain=[1 - (top + PANEL_H) / H, 1 - top / H],
                                 anchor="x" + sfx, range=yr, tickvals=yt, tickformat=".2f")
    annotations.append(dict(x=(left + PANEL_W - 6) / W, y=1 - (top + PANEL_H - 16) / H,
                            xref="paper", yref="paper", xanchor="right", yanchor="middle",
                            text="P = " + PERIODS[i] + " d", showarrow=False,
                            font=dict(family=FONT, size=LABEL_SIZE, color="black")))
    if r > 0:
        annotations.append(dict(x=(left + 8) / W, y=1 - (top + 21) / H,
                                xref="paper", yref="paper", xanchor="left", yanchor="middle",
                                text=NAMES[i], showarrow=False,
                                font=dict(family=FONT, size=LABEL_SIZE, color="black")))
    if c == 0:
        annotations.append(dict(x=22 / W, y=1 - (top + PANEL_H / 2) / H,
                                xref="paper", yref="paper", xanchor="center", yanchor="middle",
                                text="<i>I</i>-band magnitude", textangle=-90, showarrow=False,
                                font=dict(family=FONT, size=LABEL_SIZE, color="black")))
    if r == 2:
        annotations.append(dict(x=(left + PANEL_W / 2) / W, y=1 - 1376 / H,
                                xref="paper", yref="paper", xanchor="center", yanchor="middle",
                                text="Phase", showarrow=False,
                                font=dict(family=FONT, size=LABEL_SIZE, color="black")))

# black redaction block covering the top of the figure (drawn last, on top)
annotations.append(dict(x=10 / W, y=1 - 5 / H, xref="paper", yref="paper",
                        xanchor="left", yanchor="top", text=" ", showarrow=False,
                        width=956, height=645, bgcolor="black", borderpad=0, borderwidth=0))

layout["annotations"] = annotations
fig.update_layout(**layout)
fig.write_html("out.html")
